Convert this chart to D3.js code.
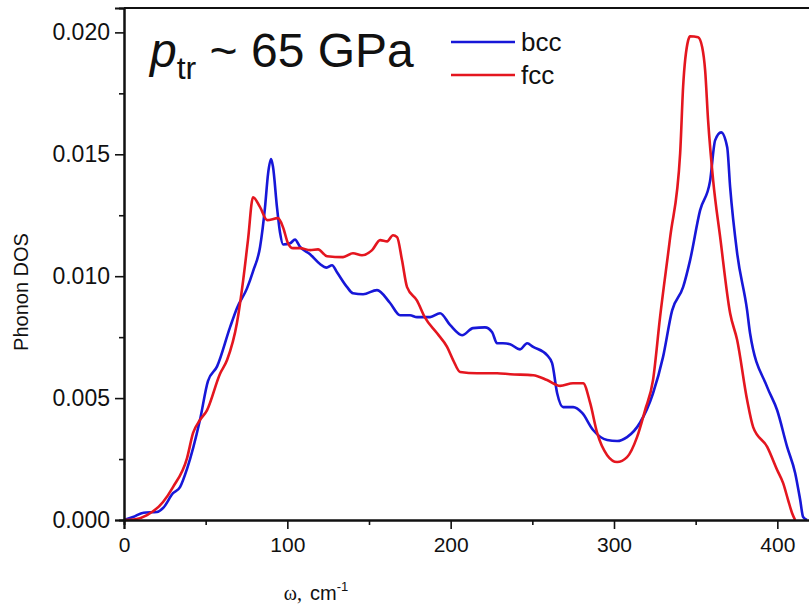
<!DOCTYPE html>
<html lang="en">
<head>
<meta charset="UTF-8">
<title>Phonon DOS</title>
<script src="https://cdnjs.cloudflare.com/ajax/libs/d3/7.8.5/d3.min.js"></script>
<style>
  body { margin: 0; background: #fff; }
  text { font-family: "Liberation Sans", Arial, sans-serif; fill: #111; }
</style>
</head>
<body>
<svg id="chart" width="809" height="607"></svg>
<script>
// bcc curve (omega in cm^-1, DOS)
var bccW = [0, 5.5, 12, 20.2, 23.9, 30, 34.3, 38.6, 46.5, 51.4, 57, 64.9, 69.2, 75.3, 79, 83.3, 86.3, 88.2, 90, 91.2, 93.7, 95.5, 97.4,
  101.7, 104.7, 107.8, 113.9, 120, 124, 127.4, 130.4, 136.6, 140.2, 146.4, 154.9, 162.9, 169, 175.1, 179.4, 187.4, 193.5, 199.6,
  207, 213.7, 221, 225.4, 228.4, 232, 236.4, 242.5, 246.8, 250.5, 259, 262.1, 265.2, 268.8, 275, 280.5, 287.2, 295.8, 301.9,
  308, 316, 323.9, 330, 335.6, 342.3, 346.6, 352.7, 358.8, 361.9, 365.6, 369.3, 371.1, 375.4, 381.5, 383.3, 393.8, 399.9,
  406, 410.9, 414, 415.8, 418.2];
var bccV = [0, 0.00012, 0.0003, 0.00033, 0.00049, 0.0011, 0.00135, 0.0021, 0.0041, 0.0057, 0.0063, 0.0079, 0.0087, 0.0095, 0.0102, 0.0112, 0.0128, 0.0142, 0.0148, 0.0145, 0.0128, 0.0118, 0.0113,
  0.01135, 0.0115, 0.0112, 0.0109, 0.0105, 0.01035, 0.01045, 0.01016, 0.00955, 0.0093, 0.00926, 0.00943, 0.0089, 0.0084, 0.0084, 0.00832, 0.00832, 0.00848, 0.008,
  0.00758, 0.00787, 0.0079, 0.0077, 0.00725, 0.00725, 0.00721, 0.007, 0.00725, 0.0071, 0.00676, 0.00643, 0.0052, 0.00463, 0.00463, 0.00439, 0.00369, 0.00328, 0.00324,
  0.0034, 0.004, 0.0052, 0.00668, 0.0086, 0.00955, 0.01066, 0.0127, 0.0139, 0.01557, 0.0159, 0.01529, 0.01365, 0.01094, 0.0086, 0.00766, 0.00545, 0.0045,
  0.003, 0.00193, 0.00082, 0.00012, 0];

// fcc curve
var fccW = [0, 7, 14.1, 23.9, 30, 38.6, 42.3, 46.5, 50.8, 58.8, 63.1, 69.2, 72.9, 75.9, 79, 83.3, 87.6, 94.3, 97.4, 100.4, 103.5,
  107.8, 113.9, 118.8, 124.3, 134.1, 140.2, 145.7, 151.9, 156.8, 161.1, 164.7, 167.2, 170.2, 173.3, 179.4, 184.3, 191.7, 197.8,
  201.5, 205.8, 216.2, 228.4, 236.4, 250.5, 259, 267, 274.9, 281.1, 285.4, 289.7, 295.8, 301.9, 308, 314.1, 319, 323.9, 328.2,
  334.4, 340.5, 342.3, 345.4, 346.6, 351.5, 354, 355.8, 357.6, 360.7, 365, 371.1, 375.4, 381.5, 385.2, 393.8, 399.9, 403.5,
  406.6, 409, 410.9];
var fccV = [0, 0.00003, 0.0002, 0.00074, 0.00135, 0.00254, 0.00357, 0.0041, 0.0045, 0.006, 0.00656, 0.0081, 0.0098, 0.01148, 0.01324, 0.01283, 0.0123, 0.01238, 0.012, 0.01135, 0.01115,
  0.01115, 0.01107, 0.0111, 0.01082, 0.01078, 0.01094, 0.01086, 0.01107, 0.01148, 0.01143, 0.01168, 0.0116, 0.01066, 0.00955, 0.009, 0.0083, 0.00766, 0.0071,
  0.00656, 0.00607, 0.00602, 0.00602, 0.00598, 0.00594, 0.00574, 0.0055, 0.00561, 0.00561, 0.0048, 0.00357, 0.00266, 0.00238, 0.00258, 0.0034, 0.0045, 0.00574, 0.00832,
  0.0116, 0.01504, 0.01775, 0.01967, 0.01984, 0.0198, 0.01939, 0.01844, 0.0164, 0.01393, 0.0116, 0.00848, 0.00738, 0.00492, 0.00381, 0.003, 0.00205, 0.00152,
  0.00082, 0.00029, 0];

var xTicks = [0, 100, 200, 300, 400];
var xMinor = [50, 150, 250, 350];
var yTicks = [0, 0.005, 0.010, 0.015, 0.020];
var yMinor = [0.0025, 0.0075, 0.0125, 0.0175];
var seriesNames = ["bcc", "fcc"];
var seriesColors = ["#1717d8", "#e4161f"];

var svg = d3.select("#chart");
var mLeft = 124, mTop = 8, mBottom = 520, mRight = 810;

var scX = d3.scaleLinear().domain([0, 420]).range([mLeft, mRight]);
var scY = d3.scaleLinear().domain([0, 0.021]).range([mBottom, mTop]);

// frame (top and right)
svg.append("path")
  .attr("d", `M${mLeft},${mTop}H${mRight}V${mBottom}`)
  .attr("fill", "none").attr("stroke", "#111").attr("stroke-width", 2);

// curves
var lnMkr = d3.line().curve(d3.curveMonotoneX).x(d => scX(d[0])).y(d => scY(d[1]));
var series = [d3.zip(bccW, bccV), d3.zip(fccW, fccV)];
series.forEach((s, i) => {
  svg.append("path").attr("d", lnMkr(s))
    .attr("fill", "none").attr("stroke", seriesColors[i])
    .attr("stroke-width", 2.6).attr("stroke-linejoin", "round");
});

// axes
var gx = svg.append("g").attr("transform", `translate(0,${mBottom})`)
  .call(d3.axisBottom(scX).tickValues(xTicks).tickSize(9).tickPadding(8).tickFormat(d3.format("d")));
svg.append("g").attr("transform", `translate(0,${mBottom})`)
  .call(d3.axisBottom(scX).tickValues(xMinor).tickSize(5).tickFormat(""));
var gy = svg.append("g").attr("transform", `translate(${mLeft},0)`)
  .call(d3.axisLeft(scY).tickValues(yTicks).tickSize(9).tickPadding(5).tickFormat(d3.format(".3f")));
svg.append("g").attr("transform", `translate(${mLeft},0)`)
  .call(d3.axisLeft(scY).tickValues(yMinor).tickSize(5).tickFormat(""));

svg.selectAll(".domain").attr("stroke", "#111").attr("stroke-width", 2);
svg.selectAll(".tick line").attr("stroke", "#111").attr("stroke-width", 1.6);
svg.selectAll(".tick text").style("font-family", "'Liberation Sans', Arial, sans-serif").attr("fill", "#111");
gx.selectAll(".tick text").style("font-size", "21px");
gy.selectAll(".tick text").style("font-size", "23px");

// axis titles
svg.append("text").attr("transform", "translate(28,292) rotate(-90)")
  .attr("text-anchor", "middle").style("font-size", "20px").text("Phonon DOS");

var xl = svg.append("text").attr("x", 316).attr("y", 600).attr("text-anchor", "middle").style("font-size", "20px");
xl.append("tspan").style("font-family", "'Liberation Serif', 'Times New Roman', serif").text("ω,");
xl.append("tspan").attr("dx", 8).text("cm");
xl.append("tspan").attr("dy", -9).style("font-size", "13px").text("-1");

// label
var ttl = svg.append("text").attr("x", 150).attr("y", 67).style("font-size", "48px");
ttl.append("tspan").style("font-style", "italic").text("p");
ttl.append("tspan").attr("dy", 12).style("font-size", "32px").text("tr");
ttl.append("tspan").attr("dy", -12).text(" ~ 65 GPa");

// legend
seriesNames.forEach((name, i) => {
  var y = 42 + i * 33;
  svg.append("line").attr("x1", 451).attr("x2", 515).attr("y1", y).attr("y2", y)
    .attr("stroke", seriesColors[i]).attr("stroke-width", 2.6);
  svg.append("text").attr("x", 521).attr("y", y + 9).style("font-size", "26px").text(name);
});
</script>
</body>
</html>
